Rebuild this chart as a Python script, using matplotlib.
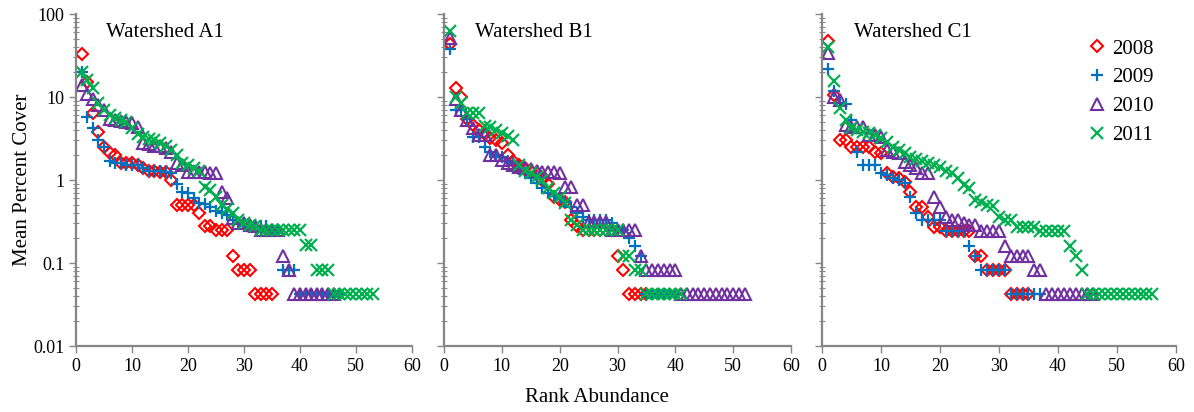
import matplotlib
matplotlib.use("Agg")
import matplotlib.pyplot as plt

plt.rcParams['font.family'] = ['Liberation Serif', 'DejaVu Serif']

years = ["2008", "2009", "2010", "2011"]
colors = ["#FF0000", "#0070C0", "#7030A0", "#00B050"]
markers = ["D", "+", "^", "x"]
titles = ["Watershed A1", "Watershed B1", "Watershed C1"]

# Watershed A1
a1_2008 = [33, 15, 6.5, 3.8, 2.5, 2.1, 2.0, 1.6, 1.6, 1.6, 1.5, 1.4, 1.3, 1.3, 1.25, 1.25, 1.0,
           0.5, 0.5, 0.5, 0.5, 0.4, 0.28, 0.28, 0.25, 0.25, 0.25, 0.12, 0.083, 0.083, 0.083,
           0.042, 0.042, 0.042, 0.042]
a1_2009 = [20, 5.8, 4.2, 3.0, 2.5, 1.7, 1.6, 1.6, 1.5, 1.5, 1.5, 1.4, 1.3, 1.3, 1.3, 1.25, 1.2,
           0.9, 0.72, 0.7, 0.6, 0.53, 0.52, 0.47, 0.42, 0.4, 0.38, 0.33, 0.3, 0.3, 0.28, 0.28,
           0.28, 0.28, 0.25, 0.25, 0.083, 0.083, 0.083, 0.042, 0.042, 0.042, 0.042, 0.042,
           0.042, 0.042, 0.042]
a1_2010 = [14, 11, 9.5, 8, 7, 5.5, 5.3, 5.2, 5, 4.8, 4.3, 2.8, 2.7, 2.6, 2.6, 2.4, 2.2, 1.6,
           1.5, 1.25, 1.25, 1.25, 1.25, 1.2, 1.2, 0.72, 0.6, 0.35, 0.3, 0.3, 0.29, 0.28, 0.25,
           0.25, 0.25, 0.25, 0.12, 0.083, 0.042, 0.042, 0.042, 0.042, 0.042, 0.042, 0.042, 0.042]
a1_2011 = [20, 16, 13, 8.5, 7, 6, 5.6, 5.3, 5, 4.2, 3.6, 3.3, 3.1, 3.0, 2.8, 2.6, 2.3, 2.0, 1.6,
           1.5, 1.4, 1.3, 0.82, 0.75, 0.62, 0.5, 0.45, 0.4, 0.33, 0.3, 0.29, 0.28, 0.25, 0.25,
           0.25, 0.25, 0.25, 0.25, 0.25, 0.25, 0.165, 0.165, 0.083, 0.083, 0.083, 0.042, 0.042,
           0.042, 0.042, 0.042, 0.042, 0.042, 0.042]

# Watershed B1
b1_2008 = [43, 12.8, 10, 5.5, 4.6, 4.0, 3.6, 3.2, 3.0, 2.8, 2.0, 1.7, 1.5, 1.4, 1.3, 1.2, 1.0,
           0.9, 0.62, 0.57, 0.55, 0.33, 0.28, 0.25, 0.25, 0.25, 0.25, 0.25, 0.25, 0.12, 0.083,
           0.042, 0.042, 0.042, 0.042]
b1_2009 = [38, 7, 7, 5.5, 3.3, 3.3, 2.5, 2.2, 2.0, 1.9, 1.7, 1.6, 1.4, 1.2, 1.05, 0.92, 0.8,
           0.7, 0.65, 0.6, 0.55, 0.47, 0.4, 0.36, 0.33, 0.33, 0.33, 0.33, 0.3, 0.25, 0.25, 0.2,
           0.16, 0.12, 0.042, 0.042, 0.042, 0.042, 0.042, 0.042]
b1_2010 = [51, 9.5, 7, 5.3, 4.2, 3.5, 3.5, 2.0, 2.0, 1.75, 1.6, 1.5, 1.45, 1.4, 1.35, 1.3, 1.25,
           1.25, 1.25, 1.2, 0.83, 0.83, 0.5, 0.5, 0.31, 0.31, 0.31, 0.31, 0.25, 0.25, 0.25,
           0.25, 0.25, 0.12, 0.083, 0.083, 0.083, 0.083, 0.083, 0.083, 0.042, 0.042, 0.042,
           0.042, 0.042, 0.042, 0.042, 0.042, 0.042, 0.042, 0.042, 0.042]
b1_2011 = [62, 10, 8.5, 6.5, 6.5, 6.5, 4.5, 4.3, 4.0, 3.7, 3.4, 3.0, 1.5, 1.3, 1.2, 1.1, 1.0,
           0.8, 0.7, 0.62, 0.53, 0.33, 0.29, 0.25, 0.25, 0.25, 0.25, 0.25, 0.25, 0.25, 0.12,
           0.12, 0.083, 0.083, 0.042, 0.042, 0.042, 0.042, 0.042, 0.042, 0.042]

# Watershed C1
c1_2008 = [47, 10.6, 3.0, 3.0, 2.5, 2.5, 2.5, 2.5, 2.2, 2.1, 1.2, 1.1, 1.05, 0.95, 0.72, 0.47,
           0.47, 0.36, 0.27, 0.27, 0.24, 0.24, 0.24, 0.24, 0.24, 0.12, 0.12, 0.083, 0.083,
           0.083, 0.083, 0.042, 0.042, 0.042, 0.042]
c1_2009 = [22, 11.8, 8.5, 8.2, 5.3, 2.2, 1.5, 1.5, 1.5, 1.2, 1.15, 1.05, 1.0, 0.93, 0.62, 0.4,
           0.33, 0.33, 0.33, 0.33, 0.24, 0.24, 0.24, 0.24, 0.16, 0.12, 0.083, 0.083, 0.083,
           0.083, 0.083, 0.042, 0.042, 0.042, 0.042, 0.042, 0.042]
c1_2010 = [34, 10, 9.2, 4.6, 4.3, 4.4, 4.3, 3.5, 3.5, 3.3, 2.3, 2.2, 2.1, 1.65, 1.5, 1.4, 1.2,
           1.2, 0.62, 0.47, 0.36, 0.33, 0.33, 0.3, 0.29, 0.29, 0.24, 0.24, 0.24, 0.24, 0.16,
           0.12, 0.12, 0.12, 0.12, 0.083, 0.083, 0.042, 0.042, 0.042, 0.042, 0.042, 0.042,
           0.042, 0.042, 0.042]
c1_2011 = [40, 15.6, 7.3, 5.3, 4.2, 4.0, 3.8, 3.7, 3.5, 3.2, 2.9, 2.5, 2.3, 2.1, 1.9, 1.8, 1.7,
           1.6, 1.5, 1.45, 1.3, 1.2, 1.05, 0.87, 0.8, 0.57, 0.54, 0.5, 0.49, 0.36, 0.33, 0.33,
           0.27, 0.27, 0.27, 0.27, 0.24, 0.24, 0.24, 0.24, 0.24, 0.16, 0.12, 0.083, 0.042,
           0.042, 0.042, 0.042, 0.042, 0.042, 0.042, 0.042, 0.042, 0.042, 0.042, 0.042]

panels = [
    [a1_2008, a1_2009, a1_2010, a1_2011],
    [b1_2008, b1_2009, b1_2010, b1_2011],
    [c1_2008, c1_2009, c1_2010, c1_2011],
]

fig = plt.figure(figsize=(11.94, 4.12), dpi=100)
rects = [[0.0637, 0.160, 0.2814, 0.806],
         [0.3719, 0.160, 0.2906, 0.806],
         [0.6884, 0.160, 0.2965, 0.806]]
axes = [fig.add_axes(r) for r in rects]

for k, ax in enumerate(axes):
    for series, yr, col, m in zip(panels[k], years, colors, markers):
        xs = list(range(1, len(series) + 1))
        if m in ("D", "^"):
            ms = 6 if m == "D" else 8
            ax.plot(xs, series, linestyle="none", marker=m, markersize=ms,
                    markerfacecolor="none", markeredgecolor=col, markeredgewidth=1.5,
                    label=yr)
        else:
            ax.plot(xs, series, linestyle="none", marker=m, markersize=8,
                    color=col, markeredgewidth=1.6, label=yr)
    ax.set_yscale("log")
    ax.set_ylim(0.01, 100)
    ax.set_xlim(0, 60)
    ax.set_xticks(range(0, 61, 10))
    for s in ("top", "right"):
        ax.spines[s].set_visible(False)
    for s in ("left", "bottom"):
        ax.spines[s].set_color("#868686")
        ax.spines[s].set_linewidth(1.6)
    ax.tick_params(axis="both", which="major", color="#868686", length=5, width=1,
                   labelsize=13, direction="out")
    ax.tick_params(axis="y", which="minor", color="#868686", length=4, width=0.8,
                   direction="inout")
    ax.text(0.09, 0.945, titles[k], transform=ax.transAxes, fontsize=15,
            va="center", ha="left")
    ax.set_yticks([0.01, 0.1, 1, 10, 100])
    if k == 0:
        ax.set_yticklabels(["0.01", "0.1", "1", "10", "100"])
        ax.set_ylabel("Mean Percent Cover", fontsize=15, labelpad=1)
    else:
        ax.set_yticklabels([])

axes[2].legend(loc="upper right", bbox_to_anchor=(0.96, 0.95), frameon=False,
               fontsize=15, handlelength=0.8, handletextpad=0.3, labelspacing=0.45,
               borderaxespad=0)
fig.text(0.5, 0.035, "Rank Abundance", ha="center", va="center", fontsize=15)

fig.savefig("out.png", dpi=100)
